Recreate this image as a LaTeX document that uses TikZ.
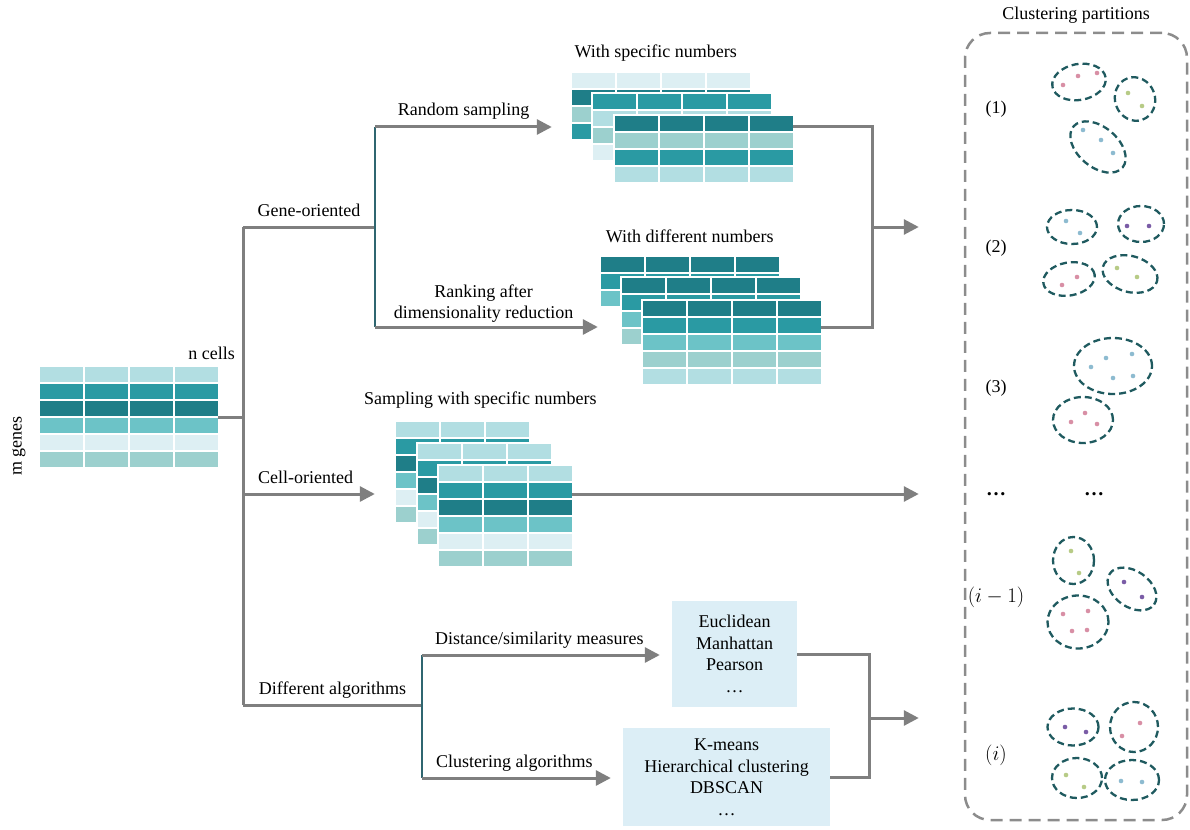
\documentclass[tikz,border=0pt]{standalone}
\usepackage{fontspec}
\setmainfont{Liberation Serif}
\usepackage{tikz}
\usetikzlibrary{arrows.meta,positioning,fit,calc}

\definecolor{cA}{HTML}{DDEFF3}
\definecolor{cB}{HTML}{B2DEE2}
\definecolor{cC}{HTML}{9CD0CE}
\definecolor{cD}{HTML}{6CC3C7}
\definecolor{cE}{HTML}{2A9AA3}
\definecolor{cF}{HTML}{1F7E88}
\definecolor{linegray}{HTML}{7F7F7F}
\definecolor{splitteal}{HTML}{2F6670}
\definecolor{boxblue}{HTML}{DCEEF6}
\definecolor{boxgray}{HTML}{8C8C8C}
\definecolor{clteal}{HTML}{1F5A5F}
\definecolor{ptpink}{HTML}{D88FA5}
\definecolor{ptgreen}{HTML}{B7CB86}
\definecolor{ptblue}{HTML}{8DBBD0}
\definecolor{ptpurple}{HTML}{7A5CA6}

% name, x, y, columns, row colours
\newcommand{\cellgrid}[5]{%
  \foreach \rc [count=\ri from 0] in {#5}{
    \fill[white] ({#2-2},{#3+\ri*17-2}) rectangle ({#2+#4*45},{#3+\ri*17+17});
    \foreach \ci in {1,...,#4}
      \fill[\rc] ({#2+(\ci-1)*45},{#3+\ri*17}) rectangle ++(42.5,15);
    \coordinate (#1-se) at ({#2+(#4-1)*45+42.5},{#3+\ri*17+15});
  }
  \coordinate (#1-nw) at (#2,#3);
  \node[fit=(#1-nw)(#1-se), inner sep=0pt] (#1) {};
}
% x, y, x radius, y radius, angle
\newcommand{\clu}[5]{%
  \draw[cluster, rotate around={#5:(#1,#2)}] (#1,#2) ellipse [x radius=#3pt, y radius=#4pt];
}

\begin{document}
\begin{tikzpicture}[x=1pt, y=-1pt, font=\fontsize{18}{21.5}\selectfont,
link/.style={draw=linegray, line width=3pt},
arrow/.style={link, -{Triangle[length=15pt,width=15pt]}},
split/.style={draw=splitteal, line width=2.5pt},
lbl/.style={inner sep=2pt, text depth=4pt},
algbox/.style={fill=boxblue, align=center, inner sep=0pt},
cluster/.style={draw=clteal, line width=2.3pt, dash pattern=on 7pt off 4pt},
mathlbl/.style={font=\fontsize{20}{24}\selectfont}
]
\useasboundingbox (0,0) rectangle (1190,829);

% expression matrix
\cellgrid{expr}{40}{367}{4}{cB,cE,cF,cD,cA,cC}
\node[lbl, anchor=south east] (ncells) at (237,366) {n cells};
\node[rotate=90, inner sep=0pt] (mgenes) at (19,446) {m genes};

% sampled matrices
\cellgrid{s1b}{572}{73}{4}{cA,cF,cC,cE}
\cellgrid{s1m}{593}{94}{4}{cE,cB,cC,cA}
\cellgrid{s1f}{615}{116}{4}{cF,cC,cE,cB}
\node[lbl, above=9pt of s1b, xshift=-5pt] {With specific numbers};

\cellgrid{s2b}{601}{257}{4}{cF,cE,cD}
\cellgrid{s2m}{622}{278}{4}{cF,cE,cD,cC}
\cellgrid{s2f}{643}{301}{4}{cF,cE,cD,cC,cB}
\node[lbl, above=8pt of s2b] {With different\ numbers};

\cellgrid{s3b}{396}{422}{3}{cB,cE,cF,cD,cA,cC}
\cellgrid{s3m}{418}{444}{3}{cB,cE,cF,cD,cA,cC}
\cellgrid{s3f}{439}{466}{3}{cB,cE,cF,cD,cA,cC}
\node[lbl, above=11pt of s3b, xshift=18pt] {Sampling with specific\ numbers};

% algorithm boxes
\node[algbox, minimum width=125pt, minimum height=106pt] (dist) at (734.5,654) {Euclidean\\Manhattan\\Pearson\\\dots};
\node[algbox, minimum width=207pt, minimum height=98pt] (clus) at (726.5,777) {K-means\\Hierarchical clustering\\DBSCAN\\\dots};

% partitions
\node[draw=boxgray, line width=2.5pt, dash pattern=on 12pt off 7pt, rounded corners=25pt,
  minimum width=222pt, minimum height=787pt, inner sep=0pt] (part) at (1076,426.5) {};
\node[lbl, above=6pt of part] {Clustering partitions};

\node (p1) at (996,109) {(1)};
\node (p2) at (996,248) {(2)};
\node (p3) at (996,388) {(3)};
\node[mathlbl] (pd) at (996,494) {\textbf{\dots}};
\node[mathlbl] (pdd) at (1094,494) {\textbf{\dots}};
\node[mathlbl] (pim) at (996,597) {$(i-1)$};
\node[mathlbl] (pi) at (996,755) {$(i)$};

\clu{1079}{82}{27}{18}{10}
\clu{1135}{99}{20}{22}{20}
\clu{1098}{147}{32}{20}{-40}
\clu{1072}{227}{25}{17}{0}
\clu{1141}{224}{23}{18}{0}
\clu{1069}{279}{26}{16.5}{10}
\clu{1130}{274}{28}{18}{-15}
\clu{1113}{366}{39}{28}{0}
\clu{1083}{420}{30}{23}{0}
\clu{1073.5}{560.5}{20.5}{23.5}{0}
\clu{1132}{589}{27}{18}{-35}
\clu{1078}{622}{30.5}{26.5}{0}
\clu{1073}{727}{25.5}{18.5}{0}
\clu{1134}{727}{24}{25}{0}
\clu{1077}{778}{25}{20}{0}
\clu{1132}{780}{27}{20}{0}

\foreach \x/\y in {1063/85,1078/76,1097/73,1062/285,1077/277,1071/422,1085/413,1097/424,
  1063/614,1088/611,1072/631,1087/630,1140/723,1122/736}
  \fill[ptpink] (\x,\y) circle[radius=2.3pt];
\foreach \x/\y in {1128/93,1142/106,1117/268,1137/277,1071/551,1079/573,1066/775,1084/787}
  \fill[ptgreen] (\x,\y) circle[radius=2.3pt];
\foreach \x/\y in {1083/130,1101/140,1113/153,1066/221,1080/233,1091/367,1106/358,1132/354,
  1113/378,1133/376,1121/781,1142/782}
  \fill[ptblue] (\x,\y) circle[radius=2.3pt];
\foreach \x/\y in {1127/226,1149/226,1124/582,1142/597,1065/727,1086/732}
  \fill[ptpurple] (\x,\y) circle[radius=2.3pt];

% connectors
\coordinate (tg) at (243,227);
\coordinate (ta) at (243,705);
\coordinate (co) at (243,494);
\coordinate (gr) at (375,127);
\coordinate (gs) at (375,227);
\coordinate (rk) at (375,327);
\coordinate (ad) at (422,655);
\coordinate (as) at (422,705);
\coordinate (ac) at (422,778);
\coordinate (mg) at (872,227);
\coordinate (ma) at (869,718);

\draw[link] (tg) -- (ta);
\draw[link] (expr.east) -- (expr.east -| tg);
\draw[link] (tg) -- node[lbl, above=3.5pt] {Gene-oriented} (gs);
\draw[link] (ta) -- node[lbl, above=3.5pt] {Different algorithms} (as);
\draw[split] (gr) -- (rk);
\draw[split] (ad) -- (ac);
\draw[arrow, shorten >=20pt] (gr) -- node[lbl, above=3.5pt, pos=.45] {Random sampling} (gr -| s1b.west);
\draw[arrow, shorten >=24pt] (rk) -- node[lbl, above=1pt, pos=.44, align=center] {Ranking after\\dimensionality reduction} (rk -| s2m.west);
\draw[arrow, shorten >=21pt] (co) -- node[lbl, above=3.5pt, pos=.41] {Cell-oriented} (co -| s3b.west);
\draw[arrow, shorten >=12pt] (ad) -- node[lbl, above=3.5pt, pos=.47] {Distance/similarity measures} (ad -| dist.west);
\draw[arrow, shorten >=12pt] (ac) -- node[lbl, above=3.5pt, pos=.46] {Clustering algorithms} (ac -| clus.west);

\draw[link] (s1f.east |- gr) -| (mg) |- (s2f.east |- rk);
\draw[arrow, shorten >=45pt] (mg) -- (mg -| part.west);
\draw[arrow, shorten >=45pt] (s3f.east |- co) -- (co -| part.west);
\draw[link] (dist.east) -| (ma) |- (clus.east);
\draw[arrow, shorten >=45pt] (ma) -- (ma -| part.west);
\end{tikzpicture}
\end{document}
